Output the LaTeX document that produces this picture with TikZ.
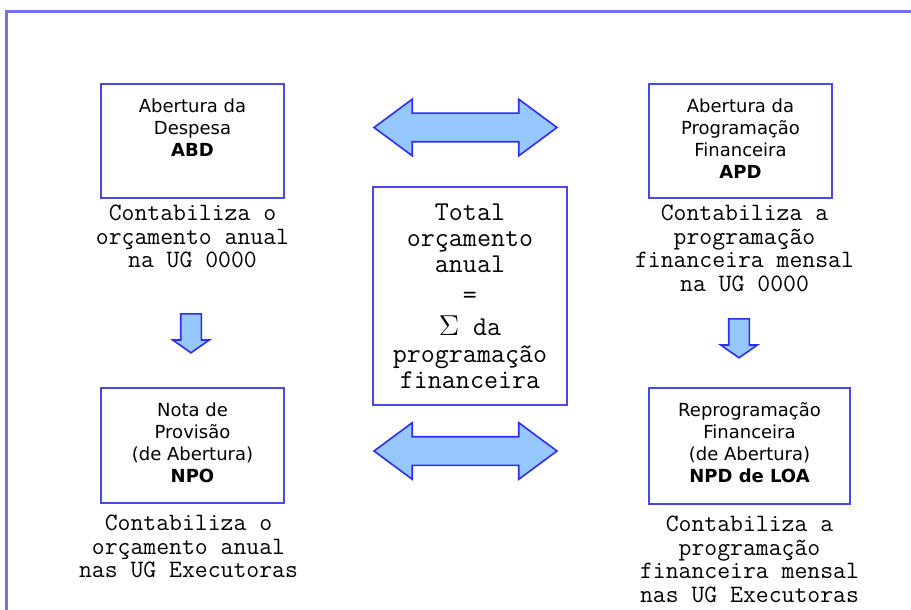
\documentclass[tikz,border=0pt]{standalone}
\usepackage{fontspec}
\setsansfont{DejaVu Sans}
\usetikzlibrary{positioning,shapes.arrows}
\definecolor{azulborda}{RGB}{72,72,240}
\definecolor{azulmoldura}{RGB}{112,112,245}
\definecolor{azulseta}{RGB}{45,45,250}
\definecolor{azulfundo}{RGB}{150,200,255}
\tikzset{
  caixa/.style={draw=azulborda, line width=1pt, minimum width=91.5pt,
    minimum height=57pt, anchor=north west, inner sep=0pt},
  titulo/.style={anchor=north, inner sep=0pt, yshift=-7.5pt, align=center,
    font=\sffamily\fontsize{9}{11}\selectfont},
  nota/.style={inner sep=0pt, align=center,
    font=\ttfamily\fontsize{12.5}{11.7}\selectfont},
  setadupla/.style={double arrow, draw=azulseta, fill=azulfundo,
    line width=0.8pt, inner xsep=0pt, inner ysep=6.75pt,
    minimum height=91.5pt, double arrow head extend=7pt,
    double arrow tip angle=73},
  setabaixo/.style={single arrow, shape border rotate=270, anchor=tail,
    draw=azulseta, fill=azulfundo, line width=0.8pt, inner sep=4.75pt,
    minimum height=19.5pt, single arrow head extend=4pt,
    single arrow tip angle=110},
  moldura/.style={draw=azulmoldura, line width=1.2pt}
}
\begin{document}
\begin{tikzpicture}[x=0.5pt, y=-0.5pt]
  \useasboundingbox (0,0) rectangle (911,610);
  \clip (0,0) rectangle (911,610);
  \draw[moldura] (6.5,625) -- (6.5,11.5) -- (925,11.5);

  \node[caixa, label={[titulo]north:{Abertura da\\Despesa\\\textbf{ABD}}}] (abd) at (100,83) {};
  \node[caixa, label={[titulo]north:{Abertura da\\Programação\\Financeira\\\textbf{APD}}}] (apd) at (648,83) {};
  \node[caixa, minimum height=57.5pt,
    label={[titulo]north:{Nota de\\Provisão\\(de Abertura)\\\textbf{NPO}}}] (npo) at (100,387) {};
  \node[caixa, minimum width=100.5pt, minimum height=58pt,
    label={[titulo]north:{Reprogramação\\Financeira\\(de Abertura)\\\textbf{NPD de LOA}}}] (npd) at (648,387) {};

  \node[caixa, anchor=center, minimum width=97pt, minimum height=109pt, align=center,
    font=\ttfamily\fontsize{13.6}{13}\selectfont] (total) at (470,296)
    {Total\\orçamento\\anual\\[2.5pt]=\\[3pt]$\Sigma$ da\\[0.5pt]programação\\financeira};

  \node[nota, below=3pt of abd] (abdnota) {Contabiliza o\\orçamento anual\\na UG 0000};
  \node[nota, below=3pt of apd, xshift=2pt] (apdnota) {Contabiliza a\\programação\\financeira mensal\\na UG 0000};
  \node[nota, below=5.5pt of npo, xshift=-2pt] (nponota) {Contabiliza o\\orçamento anual\\nas UG Executoras};
  \node[nota, below=5.5pt of npd] (npdnota) {Contabiliza a\\programação\\financeira mensal\\nas UG Executoras};

  \node[setadupla] (topo) at (465.5,127.5) {};
  \node[setadupla] (base) at (465.5,451) {};
  \node[setabaixo] (desce1) at (191,313) {};
  \node[setabaixo] (desce2) at (739,318) {};
\end{tikzpicture}
\end{document}
